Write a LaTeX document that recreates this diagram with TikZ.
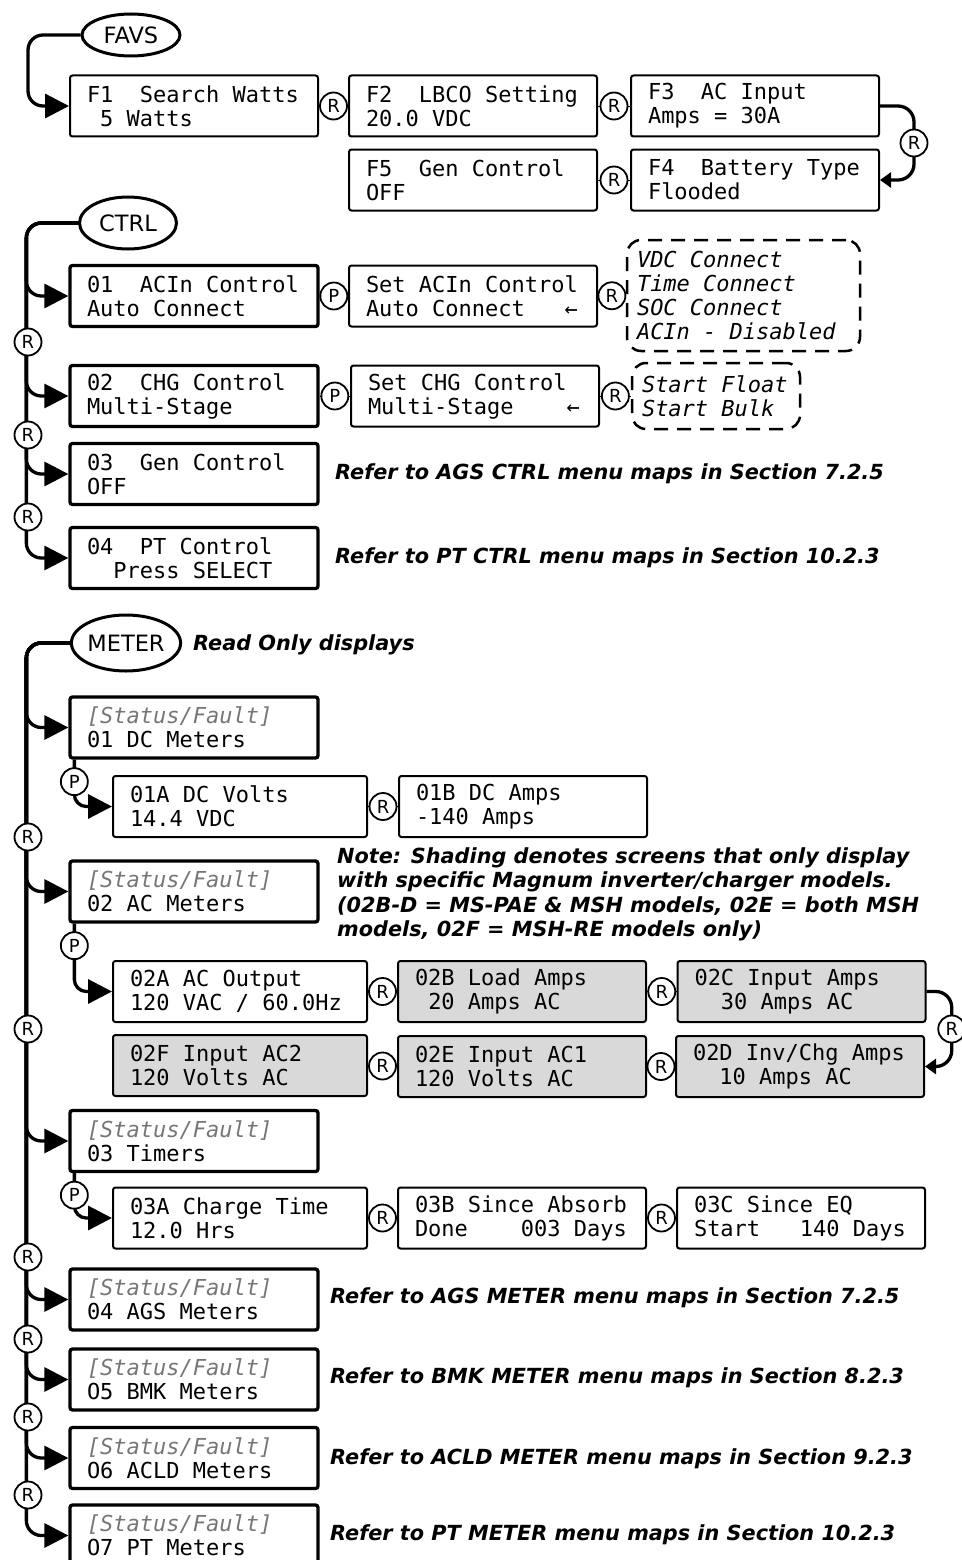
\documentclass[tikz,border=0pt]{standalone}
\usepackage{fontspec}
\setmainfont{DejaVu Sans}
\setmonofont{DejaVu Sans Mono}
\usetikzlibrary{arrows.meta, calc, shapes.geometric}
\definecolor{screengray}{RGB}{217,217,217}
\definecolor{statgray}{RGB}{118,118,118}
\newcommand{\scrfont}{\ttfamily\fontsize{22}{24}\selectfont\frenchspacing\spaceskip=0.602em\relax}
\newcommand{\notefont}{\bfseries\itshape\fontsize{20.8}{24.6}\selectfont}
\newcommand{\statline}{\textcolor{statgray}{\itshape[Status/Fault]}}
\newcommand{\pad}{\hphantom{0}}
\tikzset{
	screen/.style={draw, line width=2pt, rounded corners=2.5pt, text width=214pt, inner xsep=17pt, inner ysep=0pt, minimum height=61pt, align=flush left, font=\scrfont},
	mainscreen/.style={screen, line width=3.3pt},
	shaded/.style={screen, fill=screengray}
}
\tikzset{
	choices/.style={draw, dash pattern=on 14pt off 9pt, line width=2.5pt, rounded corners=14pt, inner xsep=10pt, inner ysep=0pt, align=flush left, font=\scrfont\itshape},
	menu/.style={ellipse, draw, line width=3pt, inner sep=0pt, font=\fontsize{22.5}{24}\selectfont},
	key/.style={circle, draw, fill=white, line width=1.8pt, inner sep=0pt, minimum size=27pt, font=\fontsize{18}{18}\selectfont},
	note/.style={font=\notefont, anchor=base west, inner sep=0pt}
}
\tikzset{
	branch/.style={line width=3.3pt, rounded corners=15pt, -{Triangle[length=24pt,width=24pt]}},
	loopback/.style={line width=3.3pt, rounded corners=16pt, -{Triangle[length=11pt,width=15pt]}}
}

\begin{document}
\begin{tikzpicture}[x=1pt, y=-1pt]
  \useasboundingbox (0,0) rectangle (961,1560);

  \node[menu, minimum width=98pt, minimum height=42pt] (favs) at (131,35) {FAVS};
  \node[screen] (f1) at (194,106) {F1~~Search Watts\\\pad5 Watts};
  \node[screen] (f2) at (473,106) {F2~~LBCO Setting\\20.0 VDC};
  \node[screen] (f3) at (755,106) {F3~~AC Input\\Amps = 30A};
  \node[screen] (f4) at (755,180) {F4~~Battery Type\\Flooded};
  \node[screen] (f5) at (473,180) {F5~~Gen Control\\OFF};
  \draw[branch] (favs.west) -| ($(f1.west)+(-41,0)$) -- (f1.west);
  \draw (f1) -- node[key] (r1) {R} (f2);
  \draw (f2) -- node[key] (r2) {R} (f3);
  \draw[loopback] (f3.east) -| ($(f3.east)!0.5!(f4.east)+(34,0)$) node[key] (r3) {R} |- (f4.east);
  \draw (f5) -- node[key] (r4) {R} (f4);

  \node[menu, minimum width=97pt, minimum height=52pt] (ctrl) at (128,223) {CTRL};
  \node[mainscreen] (c01) at (194,296) {01~~ACIn Control\\Auto Connect};
  \node[screen] (set1) at (473,296) {Set ACIn Control\\Auto Connect~~~←};
  \node[choices, text width=213pt, minimum height=111pt] (opts1) at (743.5,295.5) {VDC Connect\\Time Connect\\SOC Connect\\ACIn - Disabled};
  \node[mainscreen] (c02) at (194,396) {02~~CHG Control\\Multi-Stage};
  \node[screen] (set2) at (475,396) {Set CHG Control\\Multi-Stage~~~~←};
  \node[choices, text width=148pt, minimum height=66pt] (opts2) at (716,396) {Start Float\\Start Bulk};
  \node[mainscreen] (c03) at (194,474) {03~~Gen Control\\OFF};
  \node[mainscreen] (c04) at (194,558) {04~~PT Control\\\pad\pad Press SELECT};
  \foreach \b in {c01,c02,c03,c04}
    \draw[branch] (ctrl.west) -| ($(\b.west)+(-42,0)$) -- (\b.west);
  \draw (c01) -- node[key] (p1) {P} (set1);
  \draw (set1) -- node[key] (r5) {R} (opts1);
  \draw (c02) -- node[key] (p2) {P} (set2);
  \draw (set2) -- node[key] (r6) {R} (opts2);
  \foreach \y [count=\i] in {342,435,517}
    \node[key] (rc\i) at (28,\y) {R};
  \node[note] (agsctrl) at (335,479) {Refer to AGS CTRL menu maps in Section 7.2.5};
  \node[note] (ptctrl) at (335,563) {Refer to PT CTRL menu maps in Section 10.2.3};

  \node[menu, minimum width=96pt, minimum height=56pt] (meter) at (126,643) {METER};
  \node[note] (readonly) at (193,650) {Read Only displays};
  \node[mainscreen] (m01) at (194,727.5) {\statline\\01 DC Meters};
  \node[screen, text width=220pt] (m01a) at (240,806.5) {01A DC Volts\\14.4 VDC};
  \node[screen] (m01b) at (523,806.5) {01B DC Amps\\-140 Amps};
  \node[mainscreen] (m02) at (194,891.5) {\statline\\02 AC Meters};
  \node[note, anchor=north west, align=flush left] (shading) at (337,847) {Note: Shading denotes screens that only display\\with specific Magnum inverter/charger models.\\(02B-D = MS-PAE \& MSH models, 02E = both MSH\\models, 02F = MSH-RE models only)};
  \node[screen, text width=220pt] (m02a) at (240,991.5) {02A AC Output\\120 VAC / 60.0Hz};
  \node[shaded] (m02b) at (522,991.5) {02B Load Amps\\\pad20 Amps AC};
  \node[shaded] (m02c) at (801.5,991.5) {02C Input Amps\\\pad\pad30 Amps AC};
  \node[shaded] (m02d) at (800,1066.5) {02D Inv/Chg Amps\\\pad\pad10 Amps AC};
  \node[shaded] (m02e) at (522,1066.5) {02E Input AC1\\120 Volts AC};
  \node[shaded, text width=220pt] (m02f) at (240,1065.5) {02F Input AC2\\120 Volts AC};
  \node[mainscreen] (m03) at (194,1141) {\statline\\03 Timers};
  \node[screen, text width=220pt] (m03a) at (240,1218) {03A Charge Time\\12.0 Hrs};
  \node[screen] (m03b) at (522,1218) {03B Since Absorb\\Done~~~~003 Days};
  \node[screen] (m03c) at (801,1218) {03C Since EQ\\Start~~~140 Days};
  \node[mainscreen] (m04) at (194,1299.5) {\statline\\04 AGS Meters};
  \node[mainscreen] (m05) at (194,1379.5) {\statline\\O5 BMK Meters};
  \node[mainscreen] (m06) at (194,1458) {\statline\\O6 ACLD Meters};
  \node[mainscreen] (m07) at (194,1535.5) {\statline\\O7 PT Meters};
  \foreach \b in {m01,m02,m03,m04,m05,m06,m07}
    \draw[branch] (meter.west) -| ($(\b.west)+(-42,0)$) -- (\b.west);
  \foreach \b/\s in {m01/m01a, m02/m02a, m03/m03a} {
    \draw[branch, rounded corners=12pt] ($(\b.south west)+(6,0)$) |- (\s.west);
    \node[key] (p\b) at ($(\b.south west)+(6,22)$) {P};
  }
  \draw (m01a) -- node[key] (r7) {R} (m01b);
  \draw (m02a) -- node[key] (r8) {R} (m02b);
  \draw (m02b) -- node[key] (r9) {R} (m02c);
  \draw[loopback] (m02c.east) -| ($(m02c.east)!0.5!(m02d.east)+(26,0)$) node[key] (r10) {R} |- (m02d.east);
  \draw (m02e) -- node[key] (r11) {R} (m02d);
  \draw (m02f) -- node[key] (r12) {R} (m02e);
  \draw (m03a) -- node[key] (r13) {R} (m03b);
  \draw (m03b) -- node[key] (r14) {R} (m03c);
  \foreach \y [count=\i] in {837,1029,1257,1339,1417,1495}
    \node[key] (rm\i) at (28,\y) {R};
  \node[note] (agsmeter) at (330,1303) {Refer to AGS METER menu maps in Section 7.2.5};
  \node[note] (bmkmeter) at (330,1383) {Refer to BMK METER menu maps in Section 8.2.3};
  \node[note] (acldmeter) at (330,1464) {Refer to ACLD METER menu maps in Section 9.2.3};
  \node[note] (ptmeter) at (330,1540) {Refer to PT METER menu maps in Section 10.2.3};
\end{tikzpicture}
\end{document}
